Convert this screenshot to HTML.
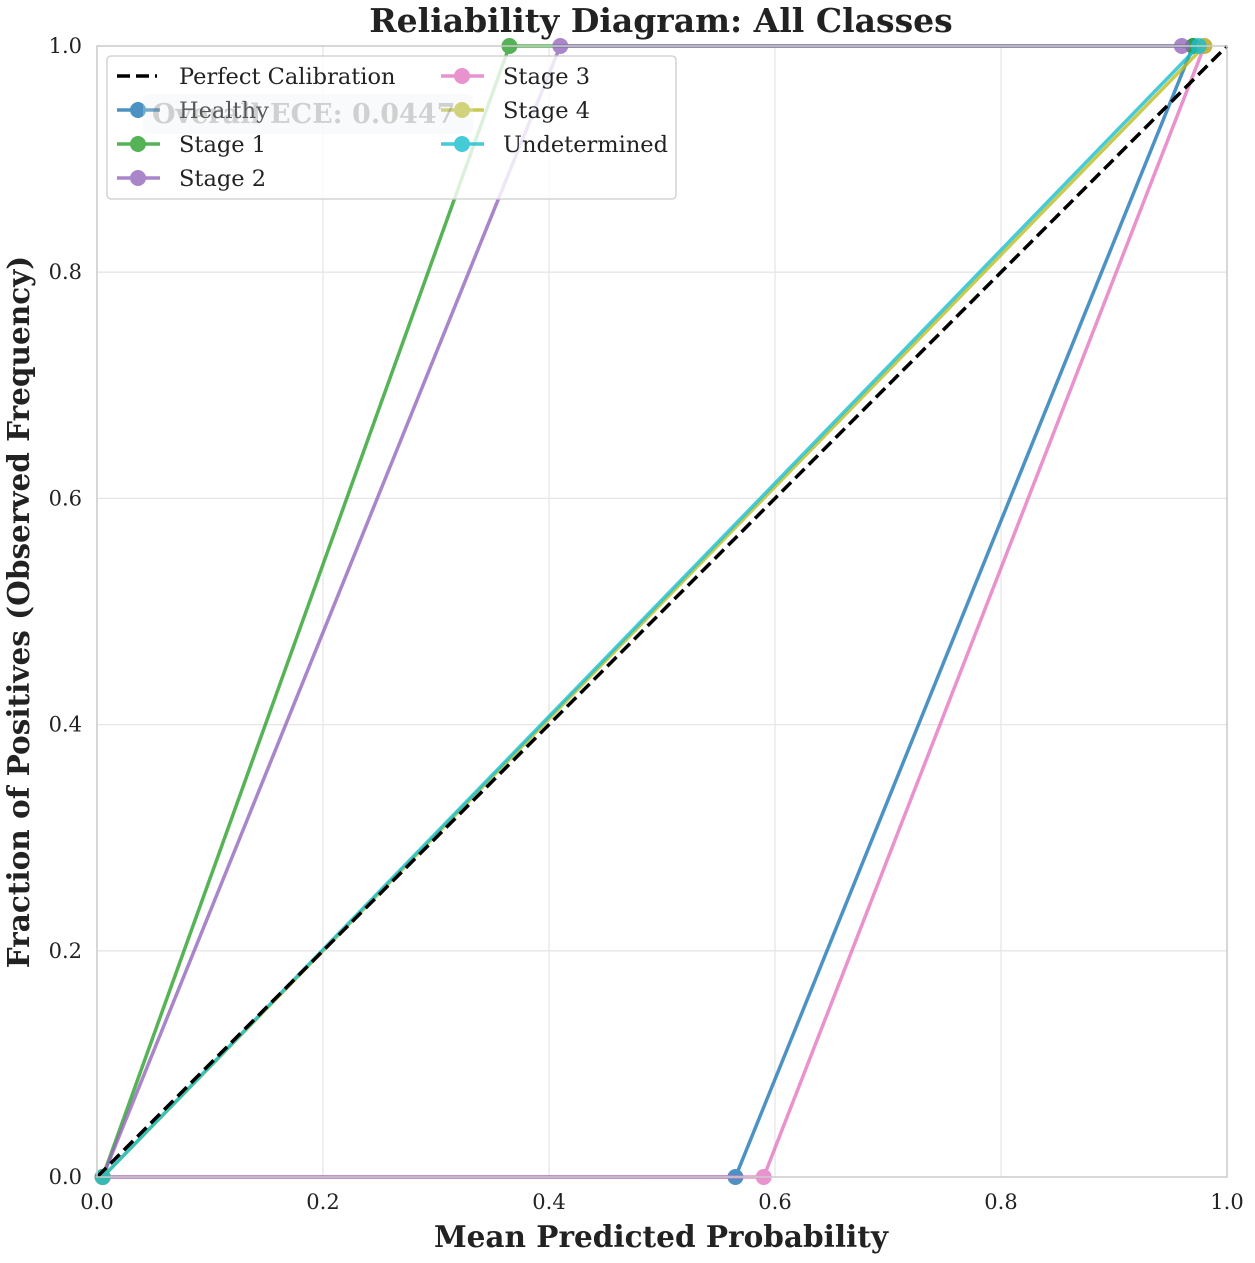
<!DOCTYPE html>
<html><head><meta charset="utf-8"><style>
body{margin:0;background:#fff;}
svg{display:block;font-family:"DejaVu Serif","Liberation Serif",serif;}
</style></head><body>
<svg id="chart" width="1255" height="1263">
<text x="661" y="32" text-anchor="middle" font-size="33" font-weight="bold" fill="#222">Reliability Diagram: All Classes</text>
<g id="grid"></g>
<g id="ticks"></g>
<g id="series"></g>
<rect x="97" y="46" width="1130" height="1131" fill="none" stroke="#ccc" stroke-width="1.5"/>
<text x="661" y="1247" text-anchor="middle" font-size="29.5" font-weight="bold" fill="#222">Mean Predicted Probability</text>
<text transform="translate(29,612) rotate(-90)" text-anchor="middle" font-size="29.5" font-weight="bold" fill="#222">Fraction of Positives (Observed Frequency)</text>
<g id="legend"></g>
<g opacity="0.45">
<rect x="143" y="94" width="330" height="40" rx="5" fill="#e4ecf4" opacity="0.6"/>
<text x="152" y="123" font-size="27" font-weight="bold" fill="#999">Overall ECE: 0.0447</text>
</g>
</svg>
<script>
const ticks=[0,0.2,0.4,0.6,0.8,1.0];
const tickLabels=["0.0","0.2","0.4","0.6","0.8","1.0"];
const seriesNames=["Healthy","Stage 1","Stage 2","Stage 3","Stage 4","Undetermined"];
const seriesColors=["#1f77b4","#2ca02c","#9467bd","#e377c2","#bcbd22","#17becf"];
const healthyX=[0.005,0.565,0.97], healthyY=[0,0,1];
const stage1X=[0.005,0.365,0.97], stage1Y=[0,1,1];
const stage2X=[0.005,0.41,0.96], stage2Y=[0,1,1];
const stage3X=[0.005,0.59,0.98], stage3Y=[0,0,1];
const stage4X=[0.005,0.98], stage4Y=[0,1];
const undetX=[0.005,0.975], undetY=[0,1];
const NS="http://www.w3.org/2000/svg";
const X=v=>97+v*1130, Y=v=>1177-v*1131;
function mk(t,a,p){const e=document.createElementNS(NS,t);for(const k in a)e.setAttribute(k,a[k]);p.appendChild(e);return e;}
const grid=document.getElementById('grid'),tk=document.getElementById('ticks'),sg=document.getElementById('series'),lg=document.getElementById('legend');
ticks.forEach((t,i)=>{
 let g1=mk('line',{x1:X(t),x2:X(t),y1:46,y2:1177,stroke:'#e6e6e6','stroke-width':1.3},grid);
 
 
 let g2=mk('line',{x1:97,x2:1227,y1:Y(t),y2:Y(t),stroke:'#e6e6e6','stroke-width':1.3},grid);
 
 
 let a=mk('text',{x:X(t),y:1209,'text-anchor':'middle','font-size':21,fill:'#222'},tk);a.textContent=tickLabels[i];
 
 
 let b=mk('text',{x:82,y:Y(t)+7,'text-anchor':'end','font-size':21,fill:'#222'},tk);b.textContent=tickLabels[i];
 
 
});
const data=[[healthyX,healthyY],[stage1X,stage1Y],[stage2X,stage2Y],[stage3X,stage3Y],[stage4X,stage4Y],[undetX,undetY]];
data.forEach((d,i)=>{
 const g=mk('g',{opacity:0.8},sg);
 
 
 mk('polyline',{points:d[0].map((x,j)=>X(x)+','+Y(d[1][j])).join(' '),fill:'none',stroke:seriesColors[i],'stroke-width':3.5},g);
 d[0].forEach((x,j)=>{const c=mk('circle',{cx:X(x),cy:Y(d[1][j]),r:8,fill:seriesColors[i]},g);
  
  });
});
const perf=mk('line',{x1:X(0),y1:Y(0),x2:X(1),y2:Y(1),stroke:'#000','stroke-width':3.5,'stroke-dasharray':'13,6'},sg);


mk('rect',{x:107,y:56,width:569,height:143,rx:4,fill:'#fff','fill-opacity':0.8,stroke:'#ccc','stroke-width':1.3},lg);
const entries=[["Perfect Calibration",null,117,76],["Healthy",0,117,110],["Stage 1",1,117,144],["Stage 2",2,117,178],["Stage 3",3,441,76],["Stage 4",4,441,110],["Undetermined",5,441,144]];
entries.forEach(e=>{
 const g=mk('g',{},lg);
 
 
 if(e[1]===null){mk('line',{x1:e[2],x2:e[2]+40,y1:e[3],y2:e[3],stroke:'#000','stroke-width':3.5,'stroke-dasharray':'13,6'},g);}
 else{const c=seriesColors[e[1]];const s=mk('g',{opacity:0.8},g);
  mk('line',{x1:e[2],x2:e[2]+43,y1:e[3],y2:e[3],stroke:c,'stroke-width':3.5},s);
  mk('circle',{cx:e[2]+21,cy:e[3],r:8,fill:c},s);}
 const t=mk('text',{x:e[2]+62,y:e[3]+8,'font-size':22.5,fill:'#222'},g);t.textContent=e[0];
});
</script>
</body></html>
